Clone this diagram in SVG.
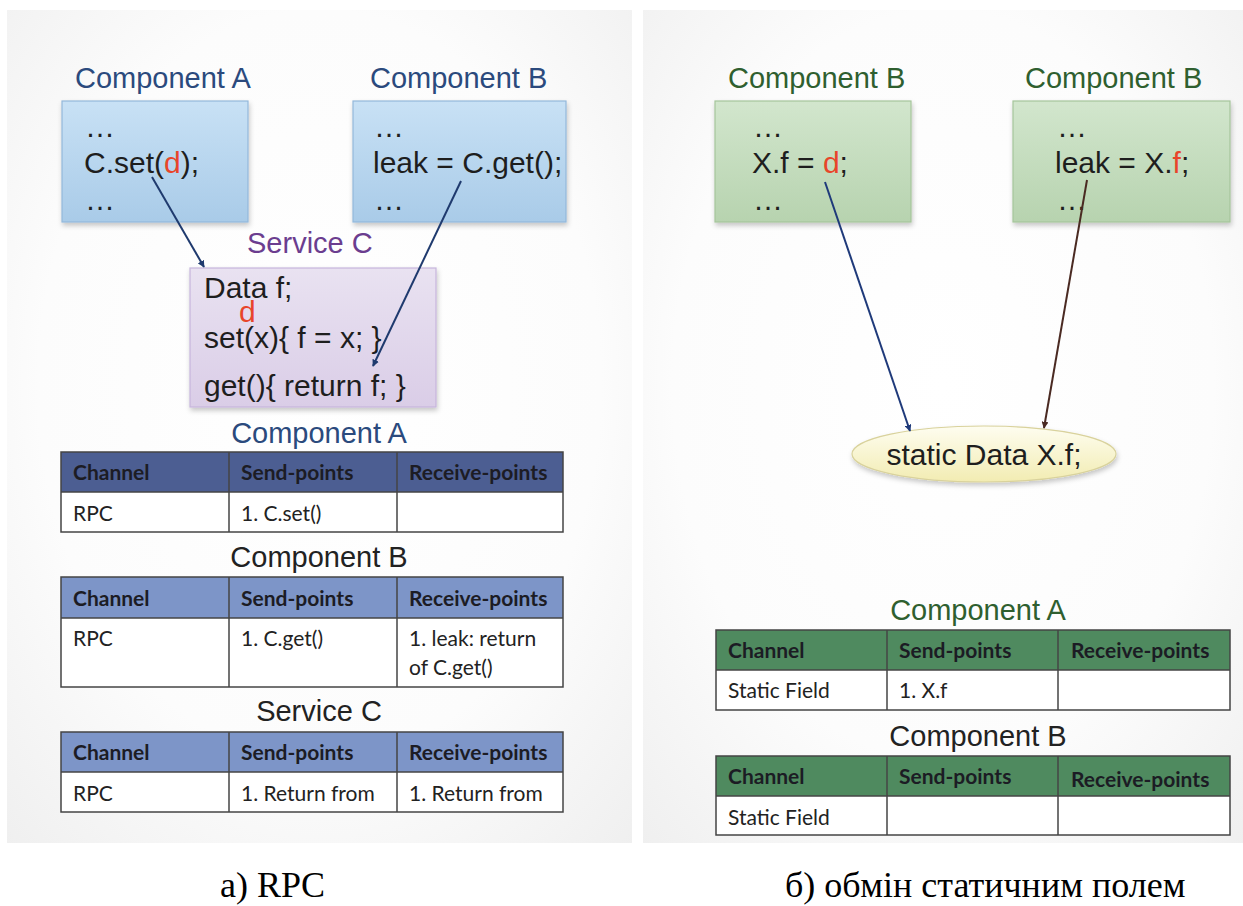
<svg xmlns="http://www.w3.org/2000/svg" width="1243" height="906" viewBox="0 0 1243 906">
<defs>
  <radialGradient id="bg" cx="50%" cy="45%" r="75%">
    <stop offset="0" stop-color="#ffffff"/>
    <stop offset="0.6" stop-color="#fcfcfc"/>
    <stop offset="1" stop-color="#efefef"/>
  </radialGradient>
  <linearGradient id="gBlue" x1="0" y1="0" x2="0" y2="1">
    <stop offset="0" stop-color="#c8e1f5"/>
    <stop offset="1" stop-color="#a9cbe8"/>
  </linearGradient>
  <linearGradient id="gPurple" x1="0" y1="0" x2="0" y2="1">
    <stop offset="0" stop-color="#e9e2f1"/>
    <stop offset="1" stop-color="#dacde7"/>
  </linearGradient>
  <linearGradient id="gGreen" x1="0" y1="0" x2="0" y2="1">
    <stop offset="0" stop-color="#d2e6cd"/>
    <stop offset="1" stop-color="#b7d3af"/>
  </linearGradient>
  <linearGradient id="gYellow" x1="0" y1="0" x2="0" y2="1">
    <stop offset="0" stop-color="#fefdf0"/>
    <stop offset="1" stop-color="#f2ecb2"/>
  </linearGradient>
  <filter id="sh" x="-10%" y="-10%" width="130%" height="140%">
    <feDropShadow dx="1" dy="3" stdDeviation="2.5" flood-color="#000" flood-opacity="0.22"/>
  </filter>
  <marker id="arNavy" viewBox="0 0 10 10" refX="9" refY="5" markerWidth="7" markerHeight="7" orient="auto" markerUnits="userSpaceOnUse">
    <path d="M0,0 L10,5 L0,10 z" fill="#1f3a6e"/>
  </marker>
  <marker id="arBlue" viewBox="0 0 10 10" refX="9" refY="5" markerWidth="7" markerHeight="7" orient="auto" markerUnits="userSpaceOnUse">
    <path d="M0,0 L10,5 L0,10 z" fill="#1f3a7a"/>
  </marker>
  <marker id="arBrown" viewBox="0 0 10 10" refX="9" refY="5" markerWidth="7" markerHeight="7" orient="auto" markerUnits="userSpaceOnUse">
    <path d="M0,0 L10,5 L0,10 z" fill="#4a2a22"/>
  </marker>
  <style>
    .title { font-family: "Liberation Sans", Arial, sans-serif; font-size: 29px; }
    .tBlue { fill: #2b4a7d; }
    .tPurple { fill: #6b3d8f; }
    .tGreen { fill: #2f5f2f; }
    .tBlack { fill: #222222; }
    .code { font-family: "Liberation Sans", Arial, sans-serif; font-size: 30px; fill: #1e1e1e; }
    .red { fill: #e8452a; }
    .th { font-family: Lato, "Open Sans", sans-serif; font-weight: bold; font-size: 21px; fill: #1c1c24; }
    .td { font-family: Lato, "Open Sans", sans-serif; font-size: 21px; fill: #222222; }
    .grid { fill: none; stroke: #444444; stroke-width: 1.5; }
    .cap { font-family: "Liberation Serif", "Times New Roman", serif; font-size: 36px; fill: #000000; }
  </style>
</defs>

<rect x="0" y="0" width="1243" height="906" fill="#ffffff"/>
<rect x="7" y="10" width="625" height="833" fill="url(#bg)"/>
<rect x="643" y="10" width="600" height="833" fill="url(#bg)"/>

<!-- Left: RPC -->
<g id="compA">
  <text class="title tBlue" x="75" y="88">Component A</text>
  <rect x="62" y="101" width="186" height="121" fill="url(#gBlue)" stroke="#93b8da" stroke-width="1.2" filter="url(#sh)"/>
  <text class="code" x="85" y="137">…</text>
  <text class="code" x="84" y="173">C.set(<tspan class="red">d</tspan>);</text>
  <text class="code" x="85" y="210">…</text>
</g>
<g id="compB">
  <text class="title tBlue" x="370" y="88">Component B</text>
  <rect x="353" y="101" width="213" height="121" fill="url(#gBlue)" stroke="#93b8da" stroke-width="1.2" filter="url(#sh)"/>
  <text class="code" x="374" y="137">…</text>
  <text class="code" x="373" y="173">leak = C.get();</text>
  <text class="code" x="374" y="210">…</text>
</g>
<g id="serviceC">
  <text class="title tPurple" x="247" y="253">Service C</text>
  <rect x="190" y="268" width="246" height="139" fill="url(#gPurple)" stroke="#c6b5dc" stroke-width="1.2" filter="url(#sh)"/>
  <text class="code" x="204" y="298">Data f;</text>
  <text class="code red" x="239" y="322">d</text>
  <text class="code" x="204" y="348">set(x){ f = x; }</text>
  <text class="code" x="204" y="396">get(){ return f; }</text>
</g>

<g id="tableA-left">
  <text class="title tBlue" x="319" y="443" text-anchor="middle">Component A</text>
  <rect x="61" y="452" width="502" height="40" fill="#4c5e92"/>
  <rect x="61" y="492" width="502" height="40" fill="#ffffff"/>
  <rect class="grid" x="61" y="452" width="502" height="80"/>
  <line class="grid" x1="61" y1="492" x2="563" y2="492"/>
  <line class="grid" x1="229" y1="452" x2="229" y2="532"/>
  <line class="grid" x1="397" y1="452" x2="397" y2="532"/>
  <text class="th" x="73" y="480">Channel</text>
  <text class="th" x="241" y="480">Send-points</text>
  <text class="th" x="409" y="480">Receive-points</text>
  <text class="td" x="73" y="521">RPC</text>
  <text class="td" x="241" y="521">1. C.set()</text>
</g>

<g id="tableB-left">
  <text class="title tBlack" x="319" y="567" text-anchor="middle">Component B</text>
  <rect x="61" y="577" width="502" height="41" fill="#7d95c8"/>
  <rect x="61" y="618" width="502" height="69" fill="#ffffff"/>
  <rect class="grid" x="61" y="577" width="502" height="110"/>
  <line class="grid" x1="61" y1="618" x2="563" y2="618"/>
  <line class="grid" x1="229" y1="577" x2="229" y2="687"/>
  <line class="grid" x1="397" y1="577" x2="397" y2="687"/>
  <text class="th" x="73" y="606">Channel</text>
  <text class="th" x="241" y="606">Send-points</text>
  <text class="th" x="409" y="606">Receive-points</text>
  <text class="td" x="73" y="646">RPC</text>
  <text class="td" x="241" y="646">1. C.get()</text>
  <text class="td" x="409" y="646">1. leak: return</text>
  <text class="td" x="409" y="675">of C.get()</text>
</g>

<g id="tableC-left">
  <text class="title tBlack" x="319" y="721" text-anchor="middle">Service C</text>
  <rect x="61" y="732" width="502" height="40" fill="#7d95c8"/>
  <rect x="61" y="772" width="502" height="40" fill="#ffffff"/>
  <rect class="grid" x="61" y="732" width="502" height="80"/>
  <line class="grid" x1="61" y1="772" x2="563" y2="772"/>
  <line class="grid" x1="229" y1="732" x2="229" y2="812"/>
  <line class="grid" x1="397" y1="732" x2="397" y2="812"/>
  <text class="th" x="73" y="760">Channel</text>
  <text class="th" x="241" y="760">Send-points</text>
  <text class="th" x="409" y="760">Receive-points</text>
  <text class="td" x="73" y="801">RPC</text>
  <text class="td" x="241" y="801">1. Return from</text>
  <text class="td" x="409" y="801">1. Return from</text>
</g>

<!-- Right: static field -->
<g id="compB1">
  <text class="title tGreen" x="728" y="88">Component B</text>
  <rect x="715" y="101" width="196" height="121" fill="url(#gGreen)" stroke="#a5c59b" stroke-width="1.2" filter="url(#sh)"/>
  <text class="code" x="753" y="137">…</text>
  <text class="code" x="752" y="173">X.f = <tspan class="red">d</tspan>;</text>
  <text class="code" x="753" y="210">…</text>
</g>
<g id="compB2">
  <text class="title tGreen" x="1025" y="88">Component B</text>
  <rect x="1013" y="101" width="217" height="121" fill="url(#gGreen)" stroke="#a5c59b" stroke-width="1.2" filter="url(#sh)"/>
  <text class="code" x="1057" y="137">…</text>
  <text class="code" x="1055" y="173">leak = X.<tspan class="red">f</tspan>;</text>
  <text class="code" x="1057" y="210">…</text>
</g>
<g id="staticField">
  <ellipse cx="984" cy="454" rx="132" ry="28" fill="url(#gYellow)" stroke="#d9d29c" stroke-width="1.2" filter="url(#sh)"/>
  <text class="code" x="984" y="465" text-anchor="middle" font-size="31">static Data X.f;</text>
</g>

<g id="tableA-right">
  <text class="title tGreen" x="978" y="620" text-anchor="middle">Component A</text>
  <rect x="716" y="630" width="514" height="40" fill="#4f8a5f"/>
  <rect x="716" y="670" width="514" height="40" fill="#ffffff"/>
  <rect class="grid" x="716" y="630" width="514" height="80"/>
  <line class="grid" x1="716" y1="670" x2="1230" y2="670"/>
  <line class="grid" x1="887" y1="630" x2="887" y2="710"/>
  <line class="grid" x1="1058" y1="630" x2="1058" y2="710"/>
  <text class="th" x="728" y="658">Channel</text>
  <text class="th" x="899" y="658">Send-points</text>
  <text class="th" x="1071" y="658">Receive-points</text>
  <text class="td" x="728" y="698">Static Field</text>
  <text class="td" x="899" y="698">1. X.f</text>
</g>

<g id="tableB-right">
  <text class="title tBlack" x="978" y="746" text-anchor="middle">Component B</text>
  <rect x="716" y="756" width="514" height="40" fill="#4f8a5f"/>
  <rect x="716" y="796" width="514" height="39" fill="#ffffff"/>
  <rect class="grid" x="716" y="756" width="514" height="79"/>
  <line class="grid" x1="716" y1="796" x2="1230" y2="796"/>
  <line class="grid" x1="887" y1="756" x2="887" y2="835"/>
  <line class="grid" x1="1058" y1="756" x2="1058" y2="835"/>
  <text class="th" x="728" y="784">Channel</text>
  <text class="th" x="899" y="784">Send-points</text>
  <text class="th" x="1071" y="787">Receive-points</text>
  <text class="td" x="728" y="825">Static Field</text>
</g>

<g id="connectors">
  <line x1="152" y1="177" x2="204" y2="267" stroke="#1f3a6e" stroke-width="2" marker-end="url(#arNavy)"/>
  <line x1="461" y1="181" x2="373" y2="366" stroke="#1f3a6e" stroke-width="2" marker-end="url(#arNavy)"/>
  <line x1="825" y1="182" x2="910" y2="431" stroke="#1f3a7a" stroke-width="2" marker-end="url(#arBlue)"/>
  <line x1="1087" y1="180" x2="1044" y2="428" stroke="#4a2a22" stroke-width="2" marker-end="url(#arBrown)"/>
</g>

<text class="cap" x="220" y="897">а) RPC</text>
<text class="cap" x="785" y="897">б) обмін статичним полем</text>
</svg>
